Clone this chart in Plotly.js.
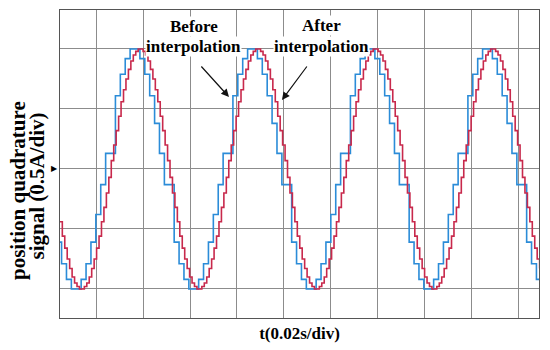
<!DOCTYPE html>
<html>
<head>
<meta charset="utf-8">
<script src="https://cdn.plot.ly/plotly-3.0.1.min.js"></script>
<style>html,body{margin:0;padding:0;background:#fff;}#chart{width:550px;height:350px;}</style>
</head>
<body>
<div id="chart"></div>
<script>
// Sampling time bases (in divisions of 0.02 s)
const BLUE_T0 = 0.1633;
const BLUE_DT = 2.5 / 24;
const RED_T0 = 0.23125;
const RED_DT = 2.5 / 48;

// Signal before interpolation (normalized amplitude, 1 = 2 div)
const beforeInterp = [
  -0.61, -0.79, -0.92, -1.00, -1.00, -0.92, -0.79, -0.61, -0.38, -0.13, 0.13, 0.13, 0.61, 0.79, 0.92, 1.00,
  1.00, 0.92, 0.79, 0.61, 0.38, 0.13, -0.13, -0.13, -0.61, -0.79, -0.92, -1.00,
  -1.00, -0.92, -0.79, -0.61, -0.38, -0.13, 0.13, 0.13, 0.61, 0.79, 0.92, 1.00,
  1.00, 0.92, 0.79, 0.61, 0.38, 0.13, -0.13, -0.13, -0.61, -0.79, -0.92, -1.00,
  -1.00, -0.92, -0.79, -0.61, -0.38, -0.13, 0.13, 0.13, 0.61, 0.79, 0.92, 1.00,
  1.00, 0.92, 0.79, 0.61, 0.38, 0.13, -0.13, -0.13, -0.61, -0.79, -0.92, -1.00,
  -1.00, -0.92, -0.79, -0.61, -0.38, -0.13, 0.13, 0.13, 0.61, 0.79, 0.92, 1.00,
  1.00, 0.92, 0.79, 0.61, 0.38, 0.13, -0.13, -0.13, -0.61, -0.79, -0.92, -1.00
];

// Signal after interpolation
const afterInterp = [
  -0.44, -0.56, -0.66, -0.75, -0.83, -0.90, -0.95, -0.98, -1.00,
  -1.00, -0.98, -0.95, -0.90, -0.83, -0.75, -0.66, -0.56, -0.44, -0.32, -0.20, -0.07,
  0.07, 0.20, 0.32, 0.44, 0.56, 0.66, 0.75, 0.83, 0.90, 0.95, 0.98, 1.00,
  1.00, 0.98, 0.95, 0.90, 0.83, 0.75, 0.66, 0.56, 0.44, 0.32, 0.20, 0.07,
  -0.07, -0.20, -0.32, -0.44, -0.56, -0.66, -0.75, -0.83, -0.90, -0.95, -0.98, -1.00,
  -1.00, -0.98, -0.95, -0.90, -0.83, -0.75, -0.66, -0.56, -0.44, -0.32, -0.20, -0.07,
  0.07, 0.20, 0.32, 0.44, 0.56, 0.66, 0.75, 0.83, 0.90, 0.95, 0.98, 1.00,
  1.00, 0.98, 0.95, 0.90, 0.83, 0.75, 0.66, 0.56, 0.44, 0.32, 0.20, 0.07,
  -0.07, -0.20, -0.32, -0.44, -0.56, -0.66, -0.75, -0.83, -0.90, -0.95, -0.98, -1.00,
  -1.00, -0.98, -0.95, -0.90, -0.83, -0.75, -0.66, -0.56, -0.44, -0.32, -0.20, -0.07,
  0.07, 0.20, 0.32, 0.44, 0.56, 0.66, 0.75, 0.83, 0.90, 0.95, 0.98, 1.00,
  1.00, 0.98, 0.95, 0.90, 0.83, 0.75, 0.66, 0.56, 0.44, 0.32, 0.20, 0.07,
  -0.07, -0.20, -0.32, -0.44, -0.56, -0.66, -0.75, -0.83, -0.90, -0.95, -0.98, -1.00,
  -1.00, -0.98, -0.95, -0.90, -0.83, -0.75, -0.66, -0.56, -0.44, -0.32, -0.20, -0.07,
  0.07, 0.20, 0.32, 0.44, 0.56, 0.66, 0.75, 0.83, 0.90, 0.95, 0.98, 1.00,
  1.00, 0.98, 0.95, 0.90, 0.83, 0.75, 0.66, 0.56, 0.44, 0.32, 0.20, 0.07,
  -0.07, -0.20, -0.32, -0.44, -0.56, -0.66, -0.75, -0.83
];

const xTitle = 't(0.02s/div)';
const yTitleLine1 = 'position quadrature';
const yTitleLine2 = 'signal (0.5A/div)';
const labelBefore = ['Before', 'interpolation'];
const labelAfter = ['After', 'interpolation'];

const xBefore = beforeInterp.map((_, i) => BLUE_T0 + i * BLUE_DT);
const xAfter = afterInterp.map((_, i) => RED_T0 + i * RED_DT);

const serif = 'Liberation Serif, Times New Roman, serif';
const gridCol = '#8c8c8c';

const traces = [
  {x: xBefore, y: beforeInterp, mode: 'lines', name: 'Before interpolation',
   line: {shape: 'hv', color: '#2b8cd8', width: 1.6}, hoverinfo: 'skip'},
  {x: xAfter, y: afterInterp, mode: 'lines', name: 'After interpolation',
   line: {shape: 'hv', color: '#c8294c', width: 1.6}, hoverinfo: 'skip'}
];

function txt(t, x, y, size, extra) {
  return Object.assign({text: '<b>' + t + '</b>', xref: 'paper', yref: 'paper', x: x, y: y,
    xanchor: 'center', yanchor: 'middle', showarrow: false,
    font: {family: serif, size: size, color: '#000'}}, extra || {});
}

const layout = {
  width: 550, height: 350,
  margin: {l: 60, r: 11, t: 10, b: 32, pad: 0},
  paper_bgcolor: '#fff', plot_bgcolor: '#fff',
  showlegend: false,
  xaxis: {range: [0.234, 10.426], tick0: 0, dtick: 1, showgrid: true, gridcolor: gridCol, gridwidth: 1,
    zeroline: false, showline: true, mirror: true, linecolor: '#555', linewidth: 1,
    ticks: '', showticklabels: false,
    title: {text: '<b>' + xTitle + '</b>', font: {family: serif, size: 17, color: '#000'}, standoff: 9}},
  yaxis: {range: [-1.242, 1.325], tick0: 0, dtick: 0.5, showgrid: true, gridcolor: gridCol, gridwidth: 1,
    zeroline: false, showline: true, mirror: true, linecolor: '#555', linewidth: 1,
    ticks: '', showticklabels: false},
  annotations: [
    txt(yTitleLine1, -0.0877, 0.4156, 21, {textangle: -90}),
    txt(yTitleLine2, -0.048, 0.427, 21, {textangle: -90}),
    txt(labelBefore[0], 0.2797, 0.948, 17, {bgcolor: '#fff', borderpad: 0}),
    txt(labelBefore[1], 0.2787, 0.883, 17, {bgcolor: '#fff', borderpad: 0}),
    txt(labelAfter[0], 0.5449, 0.951, 17, {bgcolor: '#fff', borderpad: 0}),
    txt(labelAfter[1], 0.546, 0.883, 17, {bgcolor: '#fff', borderpad: 0}),
    {text: '', xref: 'x', yref: 'y', x: 3.83, y: 0.60, ax: -29, ay: -32, showarrow: true,
     arrowhead: 2, arrowsize: 1.3, arrowwidth: 1.2, arrowcolor: '#111'},
    {text: '', xref: 'x', yref: 'y', x: 4.957, y: 0.575, ax: 26, ay: -35, showarrow: true,
     arrowhead: 2, arrowsize: 1.3, arrowwidth: 1.2, arrowcolor: '#111'},
    {text: '▶', xref: 'paper', yref: 'y', x: 0, y: 0, xanchor: 'right', yanchor: 'middle',
     showarrow: false, font: {family: 'DejaVu Sans', size: 8, color: '#000'}}
  ]
};

Plotly.newPlot('chart', traces, layout, {displayModeBar: false, staticPlot: true});
</script>
</body>
</html>
